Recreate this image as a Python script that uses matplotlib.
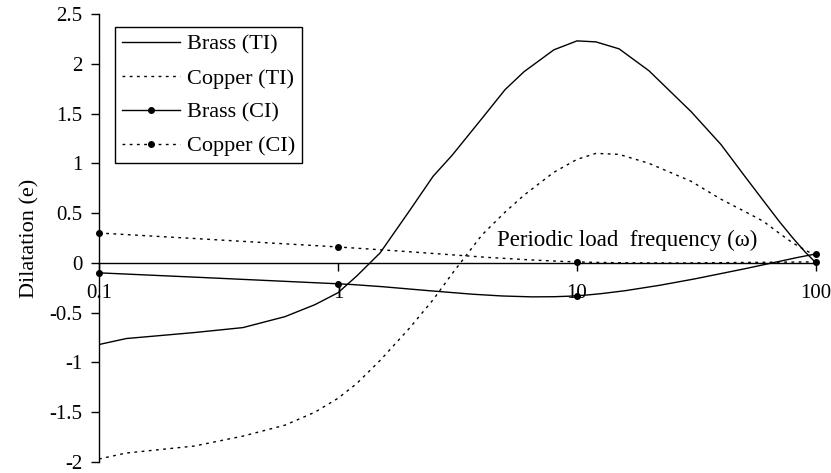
import numpy as np
import matplotlib
matplotlib.use("Agg")
import matplotlib.pyplot as plt
from matplotlib.path import Path
from matplotlib.patches import PathPatch
from matplotlib.lines import Line2D
from matplotlib.ticker import FixedLocator, FuncFormatter, NullLocator

plt.rcParams['font.family'] = ['Liberation Serif', 'DejaVu Serif']
plt.rcParams['axes.unicode_minus'] = False

# Frequency grid for the time-integrated (TI) responses
freq_ti = [0.1, 0.13, 0.25, 0.4, 0.6, 0.8, 1, 1.2, 1.5, 2, 2.5, 3, 4, 5, 6, 8,
           10, 12, 15, 20, 30, 40, 50, 60, 70, 80, 90, 100]
brass_ti = [-0.82, -0.76, -0.70, -0.65, -0.54, -0.42, -0.30, -0.13, 0.10, 0.53,
            0.87, 1.08, 1.45, 1.74, 1.92, 2.14, 2.23, 2.22, 2.15, 1.93, 1.52,
            1.19, 0.88, 0.63, 0.42, 0.25, 0.11, 0.00]
copper_ti = [-1.97, -1.91, -1.84, -1.74, -1.63, -1.50, -1.36, -1.21, -0.98, -0.65,
             -0.37, -0.11, 0.28, 0.51, 0.68, 0.91, 1.04, 1.10, 1.09, 1.00, 0.82,
             0.64, 0.52, 0.42, 0.30, 0.20, 0.13, 0.07]

# Coarse frequency points for the CI responses
freq_ci = [0.1, 1, 10, 100]
brass_ci = [-0.10, -0.21, -0.33, 0.09]
copper_ci = [0.30, 0.16, 0.01, 0.01]

y_ticks = [-2, -1.5, -1, -0.5, 0, 0.5, 1, 1.5, 2, 2.5]
x_ticks = [0.1, 1, 10, 100]
x_tick_labels = ['0.1', '1', '10', '100']

DOTTED = (0, (2.0, 3.2))


def smooth_path(xs, ys):
    """Cubic Bezier through the points (spreadsheet-style smoothed line),
    built in log10(x) space so it is smooth on the log axis."""
    pts = np.column_stack([np.log10(xs), ys]).astype(float)
    n = len(pts)
    verts = [pts[0]]
    codes = [Path.MOVETO]
    for i in range(n - 1):
        p0 = pts[i - 1] if i > 0 else pts[i]
        p1 = pts[i]
        p2 = pts[i + 1]
        p3 = pts[i + 2] if i + 2 < n else pts[i + 1]
        c1 = p1 + (p2 - p0) / 6.0
        c2 = p2 - (p3 - p1) / 6.0
        verts += [c1, c2, p2]
        codes += [Path.CURVE4] * 3
    verts = np.array(verts)
    verts[:, 0] = 10 ** verts[:, 0]
    return Path(verts, codes)


fig = plt.figure(figsize=(8.31, 4.73), dpi=100)
ax = fig.add_axes([99 / 831, 1 - 462 / 473, (816 - 99) / 831, (462 - 14) / 473])

ax.set_xscale('log')
ax.set_xlim(0.1, 100)
ax.set_ylim(-2, 2.5)

lw = 1.0
ax.plot(freq_ti, brass_ti, color='black', lw=lw, ls='-')
ax.plot(freq_ti, copper_ti, color='black', lw=lw, ls=DOTTED)

ax.add_patch(PathPatch(smooth_path(freq_ci, brass_ci), transform=ax.transData,
                       fill=False, edgecolor='black', lw=lw, ls='-'))
ax.add_patch(PathPatch(smooth_path(freq_ci, copper_ci), transform=ax.transData,
                       fill=False, edgecolor='black', lw=lw, ls=DOTTED))
ax.plot(freq_ci, brass_ci, ls='none', marker='o', ms=4, color='black', clip_on=False, zorder=5)
ax.plot(freq_ci, copper_ci, ls='none', marker='o', ms=4, color='black', clip_on=False, zorder=5)

# Axes styling: left spine and an x axis drawn through y = 0
ax.spines['top'].set_visible(False)
ax.spines['right'].set_visible(False)
ax.spines['bottom'].set_position(('data', 0))
ax.spines['left'].set_linewidth(1.0)
ax.spines['bottom'].set_linewidth(1.0)

ax.xaxis.set_major_locator(FixedLocator(x_ticks))
ax.xaxis.set_minor_locator(NullLocator())
ax.set_xticklabels(x_tick_labels)
ax.yaxis.set_major_locator(FixedLocator(y_ticks))
ax.yaxis.set_major_formatter(FuncFormatter(lambda v, p: '%g' % v))

ax.tick_params(axis='x', direction='out', length=6, width=1.0, pad=9, labelsize=15)
ax.tick_params(axis='y', direction='out', length=6, width=1.0, pad=6, labelsize=15)

ax.set_ylabel('Dilatation (e)', fontsize=16, labelpad=7)

ax.text((497 - 99) / 717, (462 - 240) / 448, 'Periodic load  frequency (\u03c9)',
        transform=ax.transAxes, ha='left', va='center', fontsize=16.5)

handles = [
    Line2D([], [], color='black', lw=lw, ls='-'),
    Line2D([], [], color='black', lw=lw, ls=DOTTED),
    Line2D([], [], color='black', lw=lw, ls='-', marker='o', ms=4),
    Line2D([], [], color='black', lw=lw, ls=DOTTED, marker='o', ms=4),
]
labels = ['Brass (TI)', 'Copper (TI)', 'Brass (CI)', 'Copper (CI)']
leg = ax.legend(handles, labels, loc='upper left',
                bbox_to_anchor=((115 - 99) / 717, (462 - 27) / 448),
                borderaxespad=0, fontsize=16, frameon=True, fancybox=False,
                edgecolor='black', framealpha=1, borderpad=0.32,
                labelspacing=0.6, handlelength=2.6, handletextpad=0.3,
                numpoints=1)
leg.get_frame().set_linewidth(1.0)

fig.savefig('out.png', dpi=100)
